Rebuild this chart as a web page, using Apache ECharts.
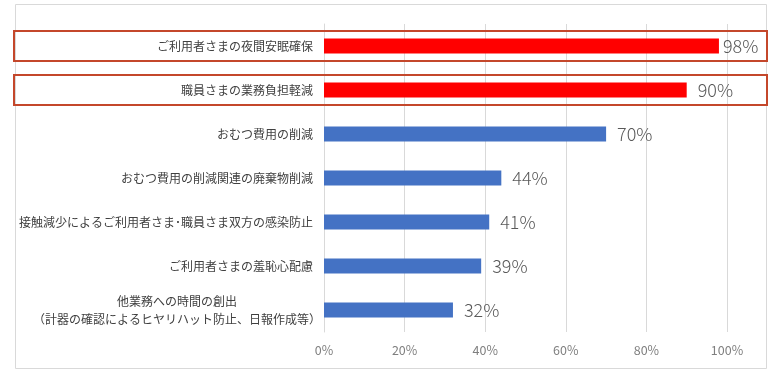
<!DOCTYPE html>
<html><head><meta charset="utf-8">
<script src="https://cdn.jsdelivr.net/npm/echarts@6/dist/echarts.min.js"></script>
<style>html,body{margin:0;padding:0;background:#fff}#c{width:781px;height:382px}</style>
</head><body><div id="c"></div>
<script>
const categories = [
  'ご利用者さまの夜間安眠確保',
  '職員さまの業務負担軽減',
  'おむつ費用の削減',
  'おむつ費用の削減関連の廃棄物削減',
  '接触減少によるご利用者さま･職員さま双方の感染防止',
  'ご利用者さまの羞恥心配慮',
  '他業務への時間の創出\n（計器の確認によるヒヤリハット防止、日報作成等）'
];
const values = [98, 90, 70, 44, 41, 39, 32];
const highlighted = [true, true, false, false, false, false, false];
const xTicks = [0, 20, 40, 60, 80, 100];

const chart = echarts.init(document.getElementById('c'));
const data = values.map((v, i) => ({
  value: v,
  itemStyle: { color: highlighted[i] ? '#ff0000' : '#4472c4' },
  label: i === 0 ? { distance: 4 } : undefined
}));
chart.setOption({
  animation: false,
  grid: { left: 324, right: 54, top: 24, bottom: 50 },
  xAxis: {
    type: 'value', min: xTicks[0], max: xTicks[xTicks.length - 1], interval: 20,
    axisLine: { show: false }, axisTick: { show: false },
    splitLine: { lineStyle: { color: '#d9d9d9', width: 1 } },
    axisLabel: { formatter: '{value}%', color: '#7f7f7f', fontSize: 12.5, margin: 12,
      fontFamily: '"Noto Sans CJK JP", sans-serif' }
  },
  yAxis: {
    type: 'category', data: categories, inverse: true,
    axisLine: { show: true, lineStyle: { color: '#d9d9d9' } }, axisTick: { show: false },
    axisLabel: { color: '#404040', fontSize: 12, margin: 11, lineHeight: 18, align: 'right',
      fontFamily: '"Noto Sans CJK JP", sans-serif',
      formatter: function (s) {
        if (s.indexOf('\n') < 0) return s;
        return s.split('\n').map(function (l) { return '{m|' + l + '}'; }).join('\n');
      },
      rich: { m: { width: 272, align: 'center', fontSize: 12, lineHeight: 18, color: '#404040',
        fontFamily: '"Noto Sans CJK JP", sans-serif' } } }
  },
  series: [{
    type: 'bar', data: data, barWidth: 15,
    label: { show: true, position: 'right', distance: 11, formatter: '{c}%',
      color: '#595959', fontSize: 18, fontWeight: 300, fontFamily: '"Noto Sans CJK JP", "Noto Sans", sans-serif' }
  }],
  graphic: []
});

function drawBoxes() {
  const els = [{
    type: 'rect', shape: { x: 15.5, y: 4.5, width: 751, height: 364 },
    style: { fill: 'none', stroke: '#d9d9d9', lineWidth: 1 }, silent: true, z: -1
  }];
  highlighted.forEach(function (h, i) {
    if (!h) return;
    const cy = chart.convertToPixel({ yAxisIndex: 0 }, i);
    els.push({
      type: 'rect', shape: { x: 14, y: Math.round(cy) - 15, width: 753, height: 30 },
      style: { fill: 'none', stroke: '#c4472b', lineWidth: 2 }, silent: true, z: 10
    });
  });
  chart.setOption({ graphic: els });
}
drawBoxes();
</script>
</body></html>
